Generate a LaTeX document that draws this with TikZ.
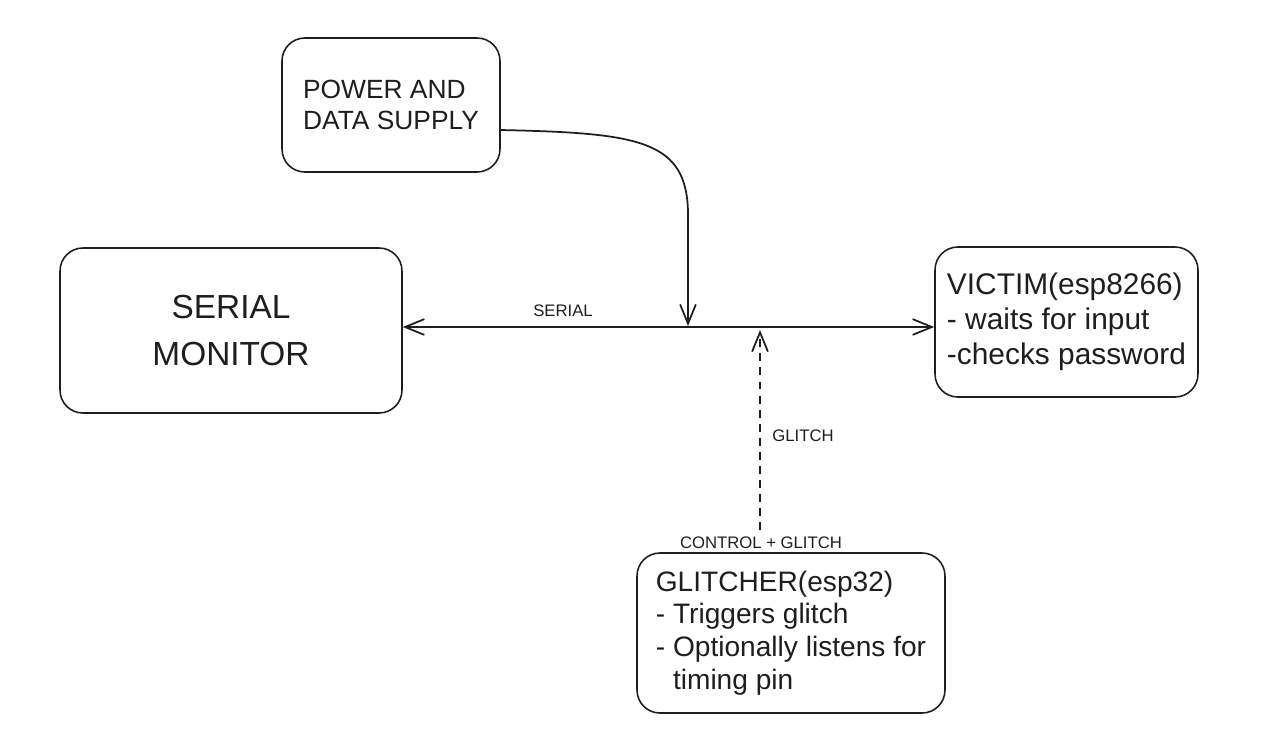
\documentclass[tikz,border=0pt]{standalone}
\usepackage{fontspec}
\setmainfont{Liberation Sans}
\usetikzlibrary{arrows.meta}
\definecolor{ink}{HTML}{1E1E1E}
\begin{document}
\begin{tikzpicture}[x=0.02cm,y=-0.02cm,
  box/.style={draw=ink,line width=0.9pt,rounded corners=13pt,inner sep=0pt,text=ink},
  conn/.style={draw=ink,line width=1pt,-{Straight Barb[length=11pt,width=9pt,line width=1pt]}},
  lbl/.style={text=ink,font=\fontsize{9.5}{11}\selectfont,inner sep=0pt}]
\useasboundingbox (0,0) rectangle (1265,745);
% boxes
\node[box,minimum width=4.36cm,minimum height=2.68cm,align=left,
  font=\fontsize{15}{18}\selectfont] (power) at (391,105) {POWER AND\\DATA SUPPLY};
\node[box,minimum width=6.84cm,minimum height=3.30cm,align=center,
  font=\fontsize{19}{27}\selectfont] (serial) at (231,330.5) {SERIAL\\MONITOR};
\node[box,minimum width=5.26cm,minimum height=3.00cm,align=left,
  font=\fontsize{17}{19.8}\selectfont] (victim) at (1066.5,322) {VICTIM(esp8266)\\- waits for input\\-checks password};
\node[box,minimum width=6.16cm,minimum height=3.20cm,align=left,
  font=\fontsize{16}{18.7}\selectfont] (glitcher) at (791,633) {GLITCHER(esp32)\\- Triggers glitch\\- Optionally listens for\\\phantom{- }timing pin};
% junctions
\coordinate (j1) at (688,327);
\coordinate (j2) at (760,327);
\coordinate (ps) at (500,130);
\coordinate (gs) at (760,530);
% serial bus
\draw[conn,{Straight Barb[length=11pt,width=9pt,line width=1pt]}-{Straight Barb[length=11pt,width=9pt,line width=1pt]},line width=1.2pt]
  (serial.east |- j1) -- (victim.west |- j1);
% power arrow
\draw[conn] (ps) .. controls (640,133) and (688,140) .. (688,215) -- ([yshift=0.02cm]j1);
% glitch arrow
\draw[conn,dash pattern=on 4.5pt off 3.5pt] (gs) -- ([yshift=-0.06cm]j2);
% labels
\node[lbl] (lserial) at (563,311) {SERIAL};
\node[lbl] (lglitch) at (803,436) {GLITCH};
\node[lbl] (lctrl) at (761,543) {CONTROL + GLITCH};
\end{tikzpicture}
\end{document}
